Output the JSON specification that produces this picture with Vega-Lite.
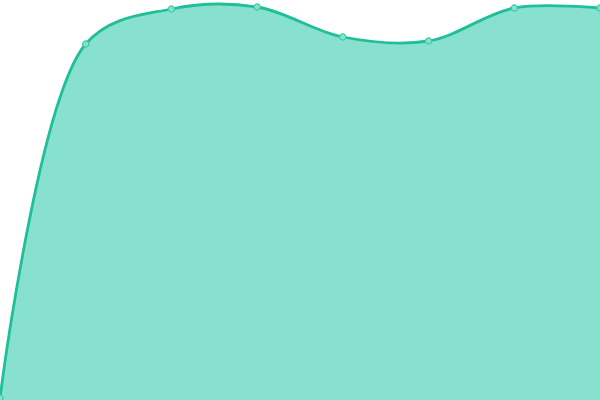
{
  "$schema": "https://vega.github.io/schema/vega-lite/v6.json",
  "width": 600,
  "height": 400,
  "autosize": "none",
  "padding": 0,
  "background": "white",
  "config": {"view": {"stroke": null}},
  "data": {"values": [
    {"i": 0, "v": 0.5},
    {"i": 1, "v": 89},
    {"i": 2, "v": 97.75},
    {"i": 3, "v": 98.25},
    {"i": 4, "v": 90.75},
    {"i": 5, "v": 89.75},
    {"i": 6, "v": 98},
    {"i": 7, "v": 98}
  ]},
  "encoding": {
    "x": {"field": "i", "type": "quantitative", "axis": null, "scale": {"domain": [0, 7], "nice": false, "zero": false}},
    "y": {"field": "v", "type": "quantitative", "axis": null, "scale": {"domain": [0, 100], "nice": false}}
  },
  "layer": [
    {"mark": {"type": "area", "interpolate": "catmull-rom", "color": "#88e0cf", "opacity": 1, "line": {"color": "#1fbf99", "strokeWidth": 2.8}}},
    {"mark": {"type": "point", "filled": true, "fill": "#88e0cf", "stroke": "#3ccaa8", "strokeWidth": 1.2, "size": 38, "opacity": 1}}
  ]
}
